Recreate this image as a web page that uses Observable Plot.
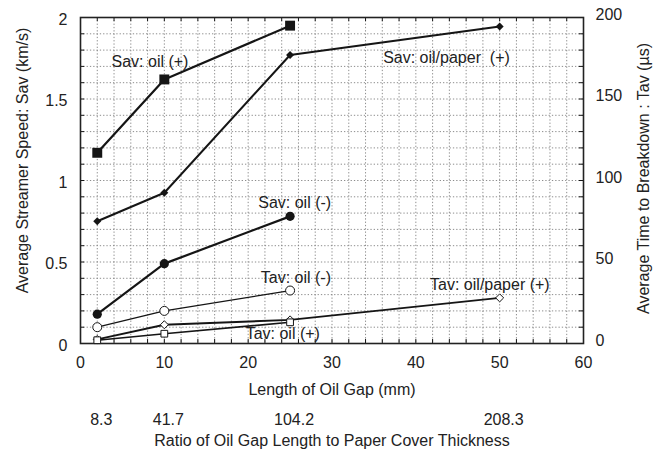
<!DOCTYPE html>
<html>
<head>
<meta charset="utf-8">
<script src="https://cdn.jsdelivr.net/npm/d3@7"></script>
<script src="https://cdn.jsdelivr.net/npm/@observablehq/plot@0.6"></script>
<style>
  body { margin: 0; background: #fff; }
  #chart svg { display: block; }
</style>
</head>
<body>
<div id="chart"></div>
<script>
// Oil gap lengths (mm) at which streamers were measured
const gapAll = [2, 10, 25, 50];
const gapOil = [2, 10, 25];

// Average streamer speed Sav (km/s)
const savOilPos = [1.17, 1.62, 1.95];
const savOilPaperPos = [0.75, 0.925, 1.77, 1.945];
const savOilNeg = [0.18, 0.49, 0.78];

// Average time to breakdown Tav (µs)
const tavOilNeg = [10, 20, 32.5];
const tavOilPaperPos = [2.5, 11.5, 14.5, 28];
const tavOilPos = [2, 6, 13];

// Gap length divided by the paper cover thickness, for each gap in gapAll
const ratioLabels = ["8.3", "41.7", "104.2", "208.3"];

// Axis ticks
const gapTicks = [0, 10, 20, 30, 40, 50, 60];
const speedTicks = [0, 0.5, 1, 1.5, 2];
const timeTicks = [0, 50, 100, 150, 200];

// Both y axes share one scale: 2 km/s on the left lines up with 200 µs on the right
const speedMax = 2, timeMax = 200;
const k = speedMax / timeMax;

const series = (xs, ys, f = 1) => xs.map((x, i) => ({gap: x, y: ys[i] * f}));

const sOilPos = series(gapOil, savOilPos);
const sOilPaperPos = series(gapAll, savOilPaperPos);
const sOilNeg = series(gapOil, savOilNeg);
const tOilNeg = series(gapOil, tavOilNeg, k);
const tOilPaperPos = series(gapAll, tavOilPaperPos, k);
const tOilPos = series(gapOil, tavOilPos, k);

// Series name tags placed beside their curves
const notes = [
  {text: "Sav: oil (+)", gap: 3.7, y: 1.73},
  {text: "Sav: oil/paper  (+)", gap: 36.1, y: 1.755},
  {text: "Sav: oil (-)", gap: 21.2, y: 0.865},
  {text: "Tav: oil (-)", gap: 21.5, y: 0.405},
  {text: "Tav: oil/paper (+)", gap: 41.7, y: 0.362},
  {text: "Tav: oil (+)", gap: 19.7, y: 0.06}
];

const ink = "#151515";
const minorX = d3.range(2, 60, 2);
const minorY = d3.range(1, 20).map(i => i / 10);
const title = {fontSize: 16, fill: "#222", textAnchor: "middle", lineAnchor: "middle"};

const chart = Plot.plot({
  width: 654,
  height: 458,
  marginLeft: 80,
  marginRight: 71,
  marginTop: 17,
  marginBottom: 115,
  style: {fontFamily: "'Liberation Sans', Arial, sans-serif", fontSize: "16px", color: "#222", background: "#fff"},
  x: {domain: [0, 60]},
  y: {domain: [0, speedMax]},
  marks: [
    // dotted grid
    Plot.ruleX(minorX, {stroke: "#808080", strokeWidth: 0.9, strokeDasharray: "1.3,2"}),
    Plot.ruleY(minorY, {stroke: "#808080", strokeWidth: 0.9, strokeDasharray: "1.3,2"}),
    // short inner ticks along the frame
    Plot.ruleX(minorX, {y1: 0, y2: 0.025, stroke: ink, strokeWidth: 1}),
    Plot.ruleX(minorX, {y1: speedMax, y2: speedMax - 0.025, stroke: ink, strokeWidth: 1}),
    Plot.ruleY(minorY, {x1: 0, x2: 0.5, stroke: ink, strokeWidth: 1}),
    Plot.ruleY(minorY, {x1: 59.5, x2: 60, stroke: ink, strokeWidth: 1}),
    Plot.frame({stroke: "#222", strokeWidth: 1.6}),

    // axes
    Plot.axisX(gapTicks, {anchor: "bottom", tickSize: 0, tickPadding: 13, fontSize: 16, label: null, tickFormat: d => String(d)}),
    Plot.axisY(speedTicks, {anchor: "left", tickSize: 0, tickPadding: 13, fontSize: 16, label: null, dy: 2, tickFormat: d => String(d)}),
    Plot.axisY(timeTicks.map(t => t * k), {anchor: "right", tickSize: 0, tickPadding: 12, fontSize: 16, label: null, dy: -3, tickFormat: d => String(Math.round(d / k))}),

    // axis titles
    Plot.text(["Length of Oil Gap (mm)"], {...title, frameAnchor: "bottom", dy: 46}),
    Plot.text(ratioLabels, {...title, x: (d, i) => gapAll[i], frameAnchor: "bottom", dy: 76, dx: 4}),
    Plot.text(["Ratio of Oil Gap Length to Paper Cover Thickness"], {...title, frameAnchor: "bottom", dy: 97}),
    Plot.text(["Average Streamer Speed: Sav (km/s)"], {...title, frameAnchor: "left", dx: -58, dy: -20, rotate: -90}),
    Plot.text(["Average Time to Breakdown : Tav (µs)"], {...title, frameAnchor: "right", dx: 60, dy: -2, rotate: -90}),

    // Tav curves
    Plot.line(tOilNeg, {x: "gap", y: "y", stroke: ink, strokeWidth: 1.3}),
    Plot.line(tOilPaperPos, {x: "gap", y: "y", stroke: ink, strokeWidth: 1.9}),
    Plot.line(tOilPos, {x: "gap", y: "y", stroke: ink, strokeWidth: 1.6}),
    Plot.dot(tOilNeg, {x: "gap", y: "y", symbol: "circle", r: 4.5, fill: "#fff", stroke: ink, strokeWidth: 1}),
    Plot.dot(tOilPaperPos, {x: "gap", y: "y", symbol: "diamond2", r: 3.6, fill: "#fff", stroke: ink, strokeWidth: 1}),
    Plot.dot(tOilPos, {x: "gap", y: "y", symbol: "square", r: 3.8, fill: "#fff", stroke: ink, strokeWidth: 1}),

    // Sav curves
    Plot.line(sOilPos, {x: "gap", y: "y", stroke: ink, strokeWidth: 2.2}),
    Plot.line(sOilPaperPos, {x: "gap", y: "y", stroke: ink, strokeWidth: 2}),
    Plot.line(sOilNeg, {x: "gap", y: "y", stroke: ink, strokeWidth: 2.2}),
    Plot.dot(sOilPos, {x: "gap", y: "y", symbol: "square", r: 5.6, fill: ink, stroke: "none"}),
    Plot.dot(sOilPaperPos, {x: "gap", y: "y", symbol: "diamond2", r: 3.6, fill: ink, stroke: "none"}),
    Plot.dot(sOilNeg, {x: "gap", y: "y", symbol: "circle", r: 4.6, fill: ink, stroke: "none"}),

    // series tags
    Plot.text(notes, {x: "gap", y: "y", text: "text", textAnchor: "start", fontSize: 16, fill: "#222"})
  ]
});

document.getElementById("chart").appendChild(chart);
</script>
</body>
</html>
